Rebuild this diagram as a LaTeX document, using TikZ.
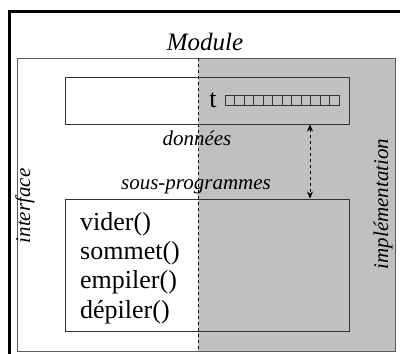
\documentclass[tikz,border=0pt]{standalone}
\usepackage{fontspec}
\setmainfont{Liberation Serif}
\usetikzlibrary{arrows.meta,positioning}

\definecolor{impl}{RGB}{192,192,192}
\definecolor{trait}{RGB}{50,50,50}

\begin{document}
\begin{tikzpicture}[x=1pt, y=-1pt, >={Stealth[length=7pt,width=6pt]},
    boite/.style={draw=trait, line width=1pt, minimum width=284pt, inner sep=0pt},
    etiq/.style={font=\fontsize{21}{21}\selectfont\itshape, inner sep=0pt},
    prog/.style={font=\fontsize{26}{26}\selectfont, anchor=base west, inner sep=0pt}]

\useasboundingbox (0,0) rectangle (400,354);

% cadre exterieur
\begin{scope}
\clip (0,0) rectangle (400,354);
\draw[line width=3pt] (9.5,11.5) rectangle (420,380);
\end{scope}

% module : interface / implementation
\fill[impl] (198,58) rectangle (395,351);
\draw[trait!80, line width=1pt] (17,58) rectangle (395,351);

\node[font=\fontsize{25}{25}\selectfont\itshape] (titre) at (205,42) {Module};

\node[boite, minimum height=47pt] (donnees) at (207,100.5) {};
\node[boite, minimum height=132pt] (progs) at (207,265) {};

\draw[dashed, line width=0.8pt] (198,58) -- (198,351);

% tableau t
\node[font=\fontsize{26}{26}\selectfont, inner sep=0pt] (t) at (213,100) {t};
\foreach \i in {0,...,11}
    \draw[trait, line width=0.8pt] ({225.3+9.5*\i},95) rectangle +(9.5,10);

\node[etiq] (ldonnees) at (197,138) {données};
\node[etiq] (lprogs) at (196,187) {sous-programmes};
\node[etiq, rotate=90] (interface) at (25,206) {interface};
\node[etiq, rotate=90] (implementation) at (383,204) {implémentation};

\foreach \nom [count=\k] in {vider,sommet,empiler,dépiler}
    \node[prog] (sp\k) at (80,{230+29.4*(\k-1)}) {\nom()};

\coordinate (fleche) at (310,0);
\draw[<->, dashed, line width=0.8pt] (donnees.south -| fleche) -- (progs.north -| fleche);

\end{tikzpicture}
\end{document}
